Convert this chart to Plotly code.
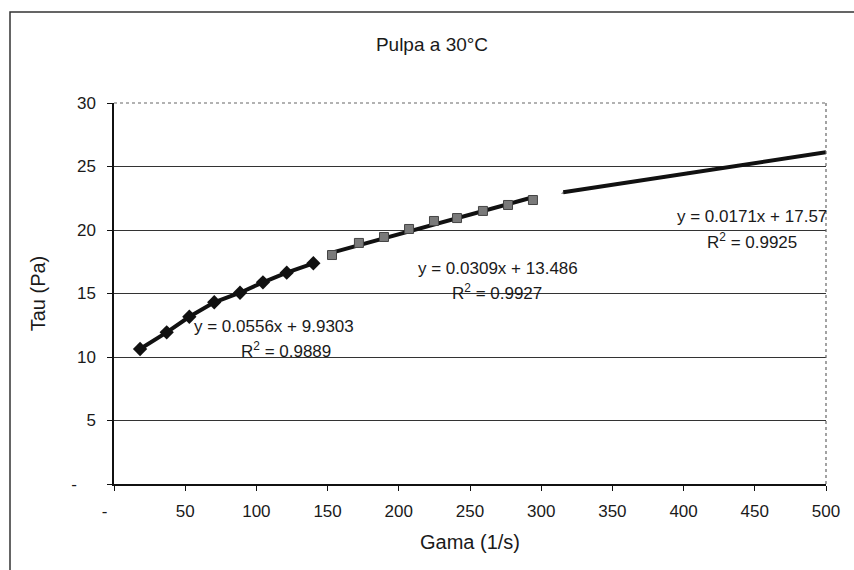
import plotly.graph_objects as go

# Shear rate (1/s) and shear stress (Pa) readings, pulp at 30 °C
gama_1 = [18.3, 37.0, 52.9, 70.4, 88.5, 104.6, 121.3, 140.0]
tau_1 = [10.63, 11.94, 13.17, 14.31, 15.06, 15.88, 16.64, 17.38]

gama_2 = [153.1, 172.0, 189.6, 207.2, 224.7, 240.9, 259.1, 276.7, 294.2]
tau_2 = [18.03, 18.98, 19.45, 20.08, 20.71, 20.94, 21.50, 21.97, 22.36]

gama_3 = [315.5, 333.0, 350.5, 368.0, 385.5, 403.0, 420.5, 438.0, 455.5, 473.0, 490.5]
tau_3 = [22.92, 23.22, 23.55, 23.86, 24.14, 24.46, 24.76, 25.05, 25.36, 25.66, 25.95]

# Linear fits (slope, intercept, R^2) for each shear-rate range
fit_1 = (0.0556, 9.9303, "0.9889")
fit_2 = (0.0309, 13.486, "0.9927")
fit_3 = (0.0171, 17.57, "0.9925")

x_ticks = [0, 50, 100, 150, 200, 250, 300, 350, 400, 450, 500]
x_ticktext = ["-\u00a0\u00a0\u00a0\u00a0", "50", "100", "150", "200", "250",
              "300", "350", "400", "450", "500"]
y_ticks = [0, 5, 10, 15, 20, 25, 30]
y_ticktext = ["-\u00a0\u00a0\u00a0\u00a0", "5", "10", "15", "20", "25", "30"]

FONT = "Liberation Sans, Arial, sans-serif"
INK = "#1a1a1a"
W, H = 854, 570
L, R, T, B = 114, 28, 103, 86
PW, PH = W - L - R, H - T - B


def px_to_paper_x(px):
    return (px - L) / PW


def px_to_paper_y(py):
    return (H - B - py) / PH


fig = go.Figure()

# Series 3 markers sit under its fit line
fig.add_trace(go.Scatter(
    x=gama_3, y=tau_3, mode="markers",
    marker=dict(symbol="triangle-up", size=4, color="#9a9a9a"),
    showlegend=False,
))

# Series 1: connecting line and black diamonds
fig.add_trace(go.Scatter(
    x=gama_1, y=tau_1, mode="lines+markers",
    line=dict(color="#111111", width=4),
    marker=dict(symbol="diamond", size=11, color="#111111"),
    showlegend=False,
))

# Fit lines for series 2 and 3
for (m, b, _), (x0, x1) in [(fit_2, (min(gama_2), max(gama_2))),
                            (fit_3, (min(gama_3), 500))]:
    fig.add_trace(go.Scatter(
        x=[x0, x1], y=[m * x0 + b, m * x1 + b], mode="lines",
        line=dict(color="#111111", width=4),
        showlegend=False, hoverinfo="skip",
    ))

# Series 2: gray squares
fig.add_trace(go.Scatter(
    x=gama_2, y=tau_2, mode="markers",
    marker=dict(symbol="square", size=9, color="#7a7a7a",
                line=dict(color="#444444", width=1)),
    showlegend=False,
))

# Fit equations
eq_pos = [(274, 326, 286, 350), (498, 268, 497, 292), (752, 216, 752, 241)]
for (m, b, r2), (ex, ey, rx, ry) in zip([fit_1, fit_2, fit_3], eq_pos):
    fig.add_annotation(
        x=px_to_paper_x(ex), y=px_to_paper_y(ey), xref="paper", yref="paper",
        xanchor="center", yanchor="middle",
        text=f"y = {m}x + {b}", showarrow=False,
        font=dict(family=FONT, size=17, color=INK),
    )
    fig.add_annotation(
        x=px_to_paper_x(rx), y=px_to_paper_y(ry), xref="paper", yref="paper",
        xanchor="center", yanchor="middle",
        text=f"R<sup>2</sup> = {r2}", showarrow=False,
        font=dict(family=FONT, size=17, color=INK),
    )

# Chart frame and dotted plot-area edges
fig.add_shape(type="rect", xref="paper", yref="paper",
              x0=px_to_paper_x(10), x1=px_to_paper_x(870),
              y0=px_to_paper_y(590), y1=px_to_paper_y(12),
              line=dict(color="#333333", width=1.5), layer="below")
fig.add_shape(type="line", xref="paper", yref="paper",
              x0=0, x1=1, y0=1, y1=1,
              line=dict(color="#666666", width=1.2, dash="dot"))
fig.add_shape(type="line", xref="paper", yref="paper",
              x0=1, x1=1, y0=0, y1=1,
              line=dict(color="#666666", width=1.2, dash="dot"))

fig.update_layout(
    width=W, height=H,
    margin=dict(l=L, r=R, t=T, b=B),
    paper_bgcolor="white", plot_bgcolor="white",
    font=dict(family=FONT, color=INK),
    title=dict(text="Pulpa a 30°C", x=432 / W,
               xanchor="center", y=1 - 44 / H, yanchor="middle",
               font=dict(family=FONT, size=19, color=INK)),
    xaxis=dict(
        range=[0, 500], tickvals=x_ticks, ticktext=x_ticktext,
        showgrid=False, zeroline=False,
        showline=True, linecolor="#111111", linewidth=1.5,
        ticks="outside", ticklen=5, tickcolor="#111111",
        ticklabelstandoff=6,
        tickfont=dict(family=FONT, size=17, color=INK),
        title=dict(text="Gama (1/s)", standoff=15,
                   font=dict(family=FONT, size=20, color=INK)),
    ),
    yaxis=dict(
        range=[0, 30], tickvals=y_ticks, ticktext=y_ticktext,
        showgrid=True, gridcolor="#333333", gridwidth=1,
        zeroline=False,
        showline=True, linecolor="#111111", linewidth=1.5,
        ticks="outside", ticklen=5, tickcolor="#111111",
        ticklabelstandoff=8,
        tickfont=dict(family=FONT, size=17, color=INK),
        title=dict(text="Tau (Pa)", standoff=20,
                   font=dict(family=FONT, size=20, color=INK)),
    ),
)

fig.write_html("out.html")
